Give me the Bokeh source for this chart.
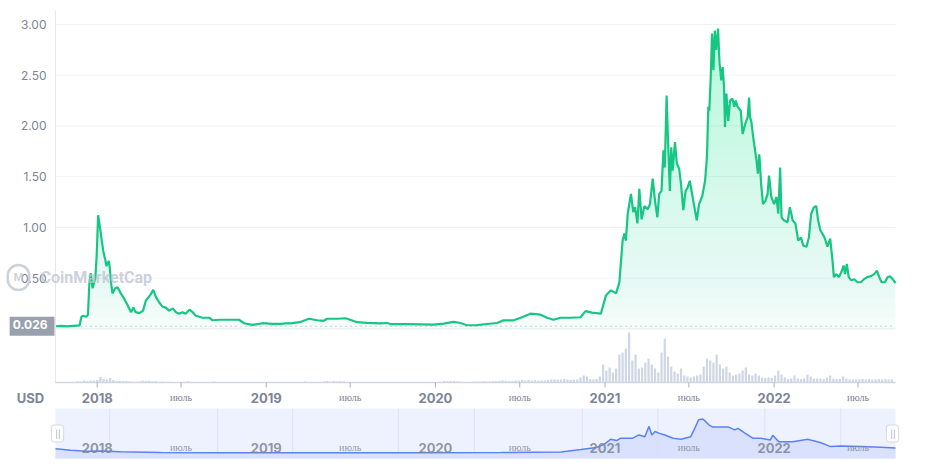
import numpy as np
import pandas as pd
from bokeh.plotting import figure
from bokeh.layouts import column
from bokeh.models import Range1d, Label
from bokeh.core.properties import value
from bokeh.embed import file_html
from bokeh.resources import INLINE

# ---------------- data ----------------
price_dates = [
    "2017-10-03", "2017-10-15", "2017-10-28", "2017-11-10", "2017-11-24", "2017-11-28", "2017-12-02",
    "2017-12-08", "2017-12-12", "2017-12-15", "2017-12-18", "2017-12-22", "2017-12-28", "2017-12-31",
    "2018-01-03", "2018-01-07", "2018-01-10", "2018-01-14", "2018-01-18", "2018-01-21", "2018-01-26",
    "2018-01-28", "2018-01-31", "2018-02-03", "2018-02-09", "2018-02-14", "2018-02-21", "2018-02-28",
    "2018-03-08", "2018-03-15", "2018-03-20", "2018-03-25", "2018-04-02", "2018-04-10", "2018-04-16",
    "2018-04-25", "2018-05-02", "2018-05-08", "2018-05-15", "2018-05-22", "2018-05-29", "2018-06-05",
    "2018-06-13", "2018-06-20", "2018-06-27", "2018-07-04", "2018-07-11", "2018-07-19", "2018-07-26",
    "2018-08-02", "2018-08-16", "2018-08-31", "2018-09-07", "2018-09-21", "2018-10-13", "2018-11-03",
    "2018-11-14", "2018-12-02", "2018-12-24", "2019-01-14", "2019-02-01", "2019-02-12", "2019-02-22",
    "2019-03-14", "2019-04-03", "2019-04-21", "2019-05-05", "2019-05-12", "2019-06-03", "2019-06-21",
    "2019-07-01", "2019-07-16", "2019-08-06", "2019-09-04", "2019-09-19", "2019-09-26", "2019-11-01",
    "2019-11-30", "2019-12-28", "2020-01-19", "2020-02-09", "2020-02-24", "2020-03-09", "2020-03-31",
    "2020-04-21", "2020-05-13", "2020-05-27", "2020-06-18", "2020-07-03", "2020-07-24", "2020-08-15",
    "2020-08-29", "2020-09-12", "2020-09-27", "2020-10-18", "2020-11-09", "2020-11-20", "2020-12-04",
    "2020-12-23", "2021-01-03", "2021-01-14", "2021-01-25", "2021-02-01", "2021-02-08", "2021-02-12",
    "2021-02-15", "2021-02-19", "2021-02-26", "2021-03-03", "2021-03-07", "2021-03-12", "2021-03-16",
    "2021-03-21", "2021-03-27", "2021-04-03", "2021-04-08", "2021-04-14", "2021-04-19", "2021-04-24",
    "2021-04-28", "2021-05-03", "2021-05-07", "2021-05-10", "2021-05-14", "2021-05-17", "2021-05-21",
    "2021-05-24", "2021-05-27", "2021-06-01", "2021-06-05", "2021-06-10", "2021-06-14", "2021-06-19",
    "2021-06-24", "2021-06-28", "2021-07-03", "2021-07-08", "2021-07-13", "2021-07-18", "2021-07-23",
    "2021-07-30", "2021-08-05", "2021-08-09", "2021-08-12", "2021-08-14", "2021-08-17", "2021-08-20",
    "2021-08-23", "2021-08-26", "2021-08-29", "2021-09-02", "2021-09-05", "2021-09-09", "2021-09-12",
    "2021-09-15", "2021-09-17", "2021-09-20", "2021-09-24", "2021-09-28", "2021-10-03", "2021-10-07",
    "2021-10-10", "2021-10-14", "2021-10-21", "2021-10-25", "2021-10-30", "2021-11-05", "2021-11-08",
    "2021-11-10", "2021-11-13", "2021-11-16", "2021-11-20", "2021-11-24", "2021-11-27", "2021-11-30",
    "2021-12-04", "2021-12-08", "2021-12-13", "2021-12-18", "2021-12-21", "2021-12-26", "2022-01-01",
    "2022-01-06", "2022-01-10", "2022-01-14", "2022-01-17", "2022-01-22", "2022-01-30", "2022-02-04",
    "2022-02-10", "2022-02-16", "2022-02-22", "2022-02-28", "2022-03-05", "2022-03-12", "2022-03-17",
    "2022-03-22", "2022-03-28", "2022-04-02", "2022-04-06", "2022-04-11", "2022-04-15", "2022-04-20",
    "2022-04-26", "2022-05-02", "2022-05-07", "2022-05-10", "2022-05-15", "2022-05-21", "2022-05-27",
    "2022-05-31", "2022-06-03", "2022-06-07", "2022-06-11", "2022-06-16", "2022-06-23", "2022-06-30",
    "2022-07-07", "2022-07-14", "2022-07-21", "2022-07-29", "2022-08-05", "2022-08-11", "2022-08-16",
    "2022-08-21", "2022-08-28", "2022-09-03", "2022-09-08", "2022-09-14", "2022-09-20",
]
price_values = [
    0.026, 0.030, 0.025, 0.030, 0.035, 0.120, 0.130,
    0.120, 0.140, 0.440, 0.550, 0.400, 0.500, 0.740,
    1.120, 1.000, 0.900, 0.770, 0.690, 0.620, 0.670,
    0.610, 0.450, 0.350, 0.400, 0.410, 0.350, 0.300,
    0.230, 0.165, 0.210, 0.165, 0.155, 0.180, 0.280,
    0.330, 0.385, 0.310, 0.260, 0.220, 0.210, 0.180,
    0.200, 0.165, 0.150, 0.165, 0.150, 0.190, 0.165,
    0.130, 0.110, 0.110, 0.085, 0.090, 0.090, 0.090,
    0.056, 0.040, 0.056, 0.050, 0.050, 0.055, 0.055,
    0.066, 0.100, 0.085, 0.080, 0.100, 0.100, 0.105,
    0.090, 0.066, 0.060, 0.055, 0.058, 0.048, 0.048,
    0.045, 0.042, 0.052, 0.070, 0.058, 0.036, 0.038,
    0.048, 0.058, 0.085, 0.085, 0.110, 0.150, 0.140,
    0.110, 0.090, 0.110, 0.110, 0.115, 0.175, 0.160,
    0.150, 0.330, 0.380, 0.350, 0.460, 0.870, 0.940,
    0.870, 1.135, 1.330, 1.150, 1.200, 1.040, 1.380,
    1.080, 1.210, 1.180, 1.230, 1.480, 1.260, 1.100,
    1.330, 1.360, 1.760, 1.590, 2.300, 1.860, 1.360,
    1.790, 1.560, 1.840, 1.630, 1.580, 1.430, 1.170,
    1.360, 1.390, 1.460, 1.330, 1.200, 1.070, 1.230,
    1.310, 1.460, 1.690, 2.190, 2.150, 2.450, 2.910,
    2.550, 2.940, 2.750, 2.960, 2.630, 2.450, 2.580,
    2.380, 1.990, 2.320, 2.050, 2.250, 2.270, 2.190,
    2.250, 2.190, 2.150, 1.920, 2.010, 2.090, 2.280,
    2.090, 2.040, 1.920, 1.790, 1.660, 1.530, 1.720,
    1.430, 1.230, 1.260, 1.330, 1.510, 1.300, 1.230,
    1.300, 1.135, 1.590, 1.100, 1.070, 1.050, 1.200,
    1.070, 1.040, 0.870, 0.900, 0.820, 0.810, 0.900,
    1.135, 1.200, 1.210, 1.070, 0.970, 0.940, 0.900,
    0.810, 0.890, 0.675, 0.510, 0.540, 0.510, 0.570,
    0.625, 0.540, 0.640, 0.510, 0.480, 0.490, 0.460,
    0.460, 0.490, 0.510, 0.520, 0.540, 0.575, 0.510,
    0.460, 0.460, 0.510, 0.520, 0.490, 0.450,
]

# weekly volume (billions USD), weeks starting 2017-10-02
vol_start = "2017-10-02"
vol_values = [
    0.1, 0.1, 0.1, 0.1, 0.1, 0.1, 0.1, 0.45, 0.35, 0.7, 0.5, 0.7, 0.7, 0.9, 1.9, 1.2, 1.05, 1.6, 0.9, 0.5,
    0.5, 0.5, 0.5, 0.4, 0.3, 0.2, 0.35, 0.7, 0.5, 0.6, 0.4, 0.5, 0.2, 0.35, 0.2, 0.3, 0.1, 0.1, 0.1, 0.1,
    0.1, 0.4, 0.1, 0.1, 0.1, 0.1, 0.1, 0.1, 0.1, 0.35, 0.07, 0.07, 0.07, 0.07, 0.07, 0.07, 0.07, 0.07, 0.07, 0.07,
    0.07, 0.07, 0.07, 0.07, 0.07, 0.07, 0.07, 0.07, 0.07, 0.07, 0.07, 0.07, 0.07, 0.07, 0.07, 0.07, 0.1, 0.4, 0.1, 0.1,
    0.1, 0.1, 0.1, 0.4, 0.5, 0.3, 0.5, 0.35, 0.5, 0.4, 0.2, 0.1, 0.1, 0.1, 0.1, 0.1, 0.1, 0.1, 0.1, 0.1,
    0.1, 0.1, 0.1, 0.1, 0.1, 0.1, 0.1, 0.1, 0.1, 0.1, 0.1, 0.1, 0.1, 0.1, 0.1, 0.1, 0.1, 0.1, 0.1, 0.2,
    0.5, 0.5, 0.5, 0.5, 0.4, 0.3, 0.1, 0.1, 0.1, 0.3, 0.35, 0.3, 0.45, 0.35, 0.4, 0.5, 0.5, 0.6, 0.7, 0.6,
    0.5, 0.5, 0.7, 0.7, 0.9, 0.7, 0.9, 0.7, 0.8, 0.6, 0.7, 0.7, 0.9, 1.05, 1.05, 1.0, 1.05, 1.2, 1.05, 0.9,
    1.05, 1.05, 1.75, 2.45, 2.1, 1.2, 1.05, 1.2, 2.1, 6.3, 4.2, 5.25, 3.5, 4.9, 9.8, 10.5, 11.9, 17.5, 7.7, 9.8,
    4.9, 5.25, 7.0, 8.4, 6.3, 4.9, 3.5, 10.5, 15.4, 9.1, 5.6, 3.85, 3.15, 4.9, 2.45, 2.1, 1.75, 2.1, 2.45, 2.8,
    5.6, 8.4, 7.7, 7.0, 9.8, 6.3, 4.9, 5.6, 3.5, 2.45, 2.8, 3.15, 4.2, 5.25, 2.8, 2.45, 3.15, 2.45, 1.75, 1.6,
    1.75, 1.6, 2.45, 4.2, 2.8, 1.75, 1.2, 1.4, 2.45, 1.4, 1.2, 1.4, 2.8, 2.1, 1.4, 1.4, 1.4, 1.2, 1.75, 2.45,
    1.4, 1.2, 1.2, 2.1, 1.4, 1.05, 1.05, 1.05, 1.05, 1.2, 1.05, 1.2, 1.05, 1.05, 1.2, 1.05, 1.2, 1.05, 1.05,
]

# navigator (overview) series, as drawn in the lower strip
nav_dates = [
    "2017-10-03", "2017-11-05", "2017-12-08", "2018-01-09", "2018-02-21", "2018-05-18", "2018-09-25",
    "2019-04-29", "2019-11-30", "2020-05-21", "2020-09-28", "2020-11-10", "2020-12-14", "2020-12-31",
    "2021-01-13", "2021-01-26", "2021-02-04", "2021-03-02", "2021-03-15", "2021-03-28", "2021-04-06",
    "2021-04-12", "2021-04-19", "2021-04-27", "2021-05-10", "2021-05-28", "2021-06-14", "2021-07-05",
    "2021-07-14", "2021-07-22", "2021-07-31", "2021-08-06", "2021-08-13", "2021-08-22", "2021-08-30",
    "2021-09-25", "2021-10-08", "2021-10-15", "2021-10-30", "2021-11-16", "2021-12-03", "2021-12-24",
    "2021-12-29", "2022-01-11", "2022-02-10", "2022-03-15", "2022-03-25", "2022-04-12", "2022-05-03",
    "2022-05-25", "2022-07-07", "2022-08-19", "2022-09-20",
]
nav_values = [
    0.38, 0.25, 0.17, 0.19, 0.12, 0.06, 0.04,
    0.03, 0.04, 0.05, 0.10, 0.32, 0.50, 0.79,
    1.21, 1.09, 1.30, 1.30, 1.58, 1.43, 2.32,
    1.58, 1.88, 1.74, 1.58, 1.30, 1.21, 1.43,
    2.17, 2.90, 2.96, 2.75, 2.46, 2.26, 2.26,
    2.26, 2.02, 2.15, 1.74, 1.30, 1.30, 1.15,
    1.55, 1.00, 1.00, 1.20, 1.09, 0.91, 0.57,
    0.63, 0.57, 0.51, 0.45,
]
nav_grid_dates = ["2018-01-28", "2018-09-18", "2019-02-27", "2019-10-13", "2020-03-25",
                  "2020-11-13", "2021-04-25", "2021-12-12", "2022-05-25"]

tick_dates = ["2018-01-01", "2018-07-01", "2019-01-01", "2019-07-01", "2020-01-01",
              "2020-07-01", "2021-01-01", "2021-07-01", "2022-01-01", "2022-07-01"]
tick_labels = ["2018", "июль", "2019", "июль", "2020", "июль", "2021", "июль", "2022", "июль"]
ytick_values = [0.5, 1.0, 1.5, 2.0, 2.5, 3.0]
currency_label = "USD"
watermark = "CoinMarketCap"

# ---------------- layout helpers (pixel <-> data) ----------------
def ms(d):
    return pd.Timestamp(d).value / 1e6

W, H_MAIN, H_NAV = 927, 405, 63
X_START, X_END = "2017-10-03", "2022-09-20"
FRAME_L, FRAME_R, FRAME_T, FRAME_B = 55, 895, 10, 382
ZERO_Y, TOP_TICK_Y = 328.4, 24.0
ppu = (ZERO_Y - TOP_TICK_Y) / 3.0
x0, x1 = ms(X_START), ms(X_END)
ms_per_px = (x1 - x0) / (FRAME_R - FRAME_L)


def px_x(px):
    return x0 + (px - FRAME_L) * ms_per_px


def px_y(py):
    return (ZERO_Y - py) / ppu


VOL_PER_PX = 0.35


def vol_y(py):
    return (FRAME_B - py) * VOL_PER_PX


GREEN = "#16c784"
AXIS_TXT = "#7d8597"
GRID = "#eff2f5"
WM = "#bfc5d1"

pdates = pd.to_datetime(price_dates)
pvals = np.array(price_values)

p = figure(width=W, height=H_MAIN,
           x_range=Range1d(px_x(0), px_x(W)), y_range=Range1d(px_y(H_MAIN), px_y(0)),
           x_axis_location=None, y_axis_location=None,
           output_backend="svg", toolbar_location=None, min_border=0)
p.outline_line_color = None
p.grid.visible = False
p.extra_y_ranges = {"vol": Range1d(vol_y(H_MAIN), vol_y(0))}

n_y = len(ytick_values)
# horizontal grid lines
p.segment(x0=[x0] * n_y, y0=ytick_values, x1=[x1] * n_y, y1=ytick_values,
          line_color=GRID, line_width=1)

# watermark (under the data)
p.add_layout(Label(x=px_x(40), y=px_y(277), text=watermark, text_align="left",
                   text_baseline="middle", text_font="Roboto", text_font_size="16px",
                   text_font_style="bold", text_color=WM, text_alpha=0.8), "center")
p.add_layout(Label(x=px_x(18), y=px_y(277), text="M", text_align="center",
                   text_baseline="middle", text_font="Roboto", text_font_size="11px",
                   text_font_style="bold", text_color=WM, text_alpha=0.8,
                   border_line_color=WM, border_line_alpha=0.8, border_line_width=2.5,
                   border_radius=12, padding=(6, 6, 6, 6)), "center")

# y tick labels
p.text(x=[px_x(46)] * n_y, y=ytick_values, text=[f"{v:.2f}" for v in ytick_values],
       text_align="right", text_baseline="middle", text_font=value("Inter"),
       text_font_size="12px", text_color=AXIS_TXT)

# volume bars
vdates = pd.date_range(vol_start, periods=len(vol_values), freq="7D")
p.vbar(x=vdates, top=vol_values, width=4.8 * 86400000, y_range_name="vol",
       fill_color="#cfd6e4", line_color=None)

# panel separator at price 0
p.segment(x0=[x0], y0=[0], x1=[x1], y1=[0], line_color="#e9edf2", line_width=1)

# gradient-like fill under the price line
def grad_alpha(v):
    return 0.02 + 0.24 * (np.clip(v, 0, 3) / 3) ** 0.7

prev = 0.0
for lo in np.arange(0, 3.0, 0.1):
    a = grad_alpha(lo + 0.1) - prev
    prev = grad_alpha(lo + 0.1)
    p.varea(x=pdates, y1=np.full(len(pvals), lo), y2=np.maximum(pvals, lo),
            fill_color=GREEN, fill_alpha=float(a))

# first-price dotted line
p.segment(x0=[x0], y0=[price_values[0]], x1=[x1], y1=[price_values[0]],
          line_color="#9ea6b5", line_dash="1 4", line_width=1)

# price line
p.line(pdates, pvals, line_color=GREEN, line_width=2.2)

# left axis line
p.segment(x0=[x0], y0=[px_y(FRAME_T)], x1=[x0], y1=[px_y(FRAME_B)],
          line_color="#e3e7ee", line_width=1)
# bottom axis line and ticks
p.segment(x0=[x0], y0=[px_y(FRAME_B)], x1=[x1], y1=[px_y(FRAME_B)],
          line_color="#cfd6e4", line_width=1.5)
tms = [ms(d) for d in tick_dates]
p.segment(x0=tms, y0=[px_y(FRAME_B)] * len(tms), x1=tms, y1=[px_y(FRAME_B + 5)] * len(tms),
          line_color="#a6b0c3", line_width=1)

# x tick labels
yr_idx = [i for i, t in enumerate(tick_labels) if t.isdigit()]
mo_idx = [i for i, t in enumerate(tick_labels) if not t.isdigit()]
p.text(x=[tms[i] for i in yr_idx], y=[px_y(397)] * len(yr_idx), text=[tick_labels[i] for i in yr_idx],
       text_align="center", text_baseline="middle", text_font=value("Inter"),
       text_font_size="13px", text_font_style="bold", text_color=AXIS_TXT)
p.text(x=[tms[i] for i in mo_idx], y=[px_y(397)] * len(mo_idx), text=[tick_labels[i] for i in mo_idx],
       text_align="center", text_baseline="middle", text_font=value("Liberation Serif"),
       text_font_size="10px", text_color=AXIS_TXT)
p.text(x=[px_x(30)], y=[px_y(397)], text=[currency_label], text_align="center",
       text_baseline="middle", text_font=value("Inter"), text_font_size="13px",
       text_font_style="bold", text_color=AXIS_TXT)

# first price label box (right edge on the axis line)
p.add_layout(Label(x=x0, y=price_values[0], text=f"{price_values[0]:.3f}",
                   text_align="right", text_baseline="middle", x_offset=-1,
                   text_font="Inter", text_font_size="12px", text_font_style="bold",
                   text_color="white", background_fill_color="#9aa1ae",
                   padding=(3, 7, 3, 7)))

# ---------------- navigator ----------------
NV0, NV1 = -0.46, 3.87
NAV_T, NAV_B = 408, 458
nv_per_px = (NV1 - NV0) / (NAV_B - NAV_T)


def nav_py(py):
    return NV1 - (py - NAV_T) * nv_per_px


nav = figure(width=W, height=H_NAV, x_range=p.x_range,
             y_range=Range1d(nav_py(H_MAIN + H_NAV), nav_py(H_MAIN)),
             x_axis_location=None, y_axis_location=None,
             output_backend="svg", toolbar_location=None, min_border=0)
nav.outline_line_color = None
nav.grid.visible = False
nav.quad(left=[x0], right=[x1], bottom=[NV0], top=[NV1], fill_color="#eef2fe", line_color=None)
ng = [ms(d) for d in nav_grid_dates]
nav.segment(x0=ng, y0=[NV0] * len(ng), x1=ng, y1=[NV1] * len(ng), line_color="#dce2f3", line_width=1)

ndates = pd.to_datetime(nav_dates)
nav.varea(x=ndates, y1=np.full(len(nav_values), NV0), y2=nav_values,
          fill_color="#d6dffc", fill_alpha=0.9)
nav.line(ndates, nav_values, line_color="#5b82f4", line_width=1.5)

nav.text(x=[tms[i] for i in yr_idx], y=[nav_py(447)] * len(yr_idx), text=[tick_labels[i] for i in yr_idx],
         text_align="center", text_baseline="middle", text_font=value("Inter"),
         text_font_size="13px", text_font_style="bold", text_color="#7d8597", text_alpha=0.85)
nav.text(x=[tms[i] for i in mo_idx], y=[nav_py(447)] * len(mo_idx), text=[tick_labels[i] for i in mo_idx],
         text_align="center", text_baseline="middle", text_font=value("Liberation Serif"),
         text_font_size="10px", text_color="#7d8597", text_alpha=0.85)

for hx in (px_x(57), px_x(892)):
    nav.add_layout(Label(x=hx, y=nav_py(433), text="||", text_align="center",
                         text_baseline="middle", text_font="Inter", text_font_size="8px",
                         text_color="#9aa3b5", background_fill_color="white",
                         border_line_color="#d3d9e6", border_radius=3,
                         padding=(4, 3, 4, 3)))

layout = column(p, nav)
open("out.html", "w").write(file_html(layout, INLINE))
